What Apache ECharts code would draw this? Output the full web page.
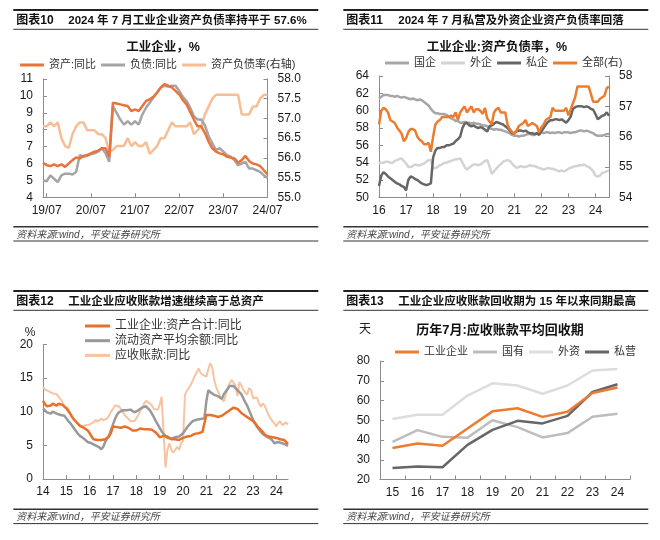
<!DOCTYPE html>
<html><head><meta charset="utf-8">
<script src="https://cdn.jsdelivr.net/npm/echarts@6/dist/echarts.min.js"></script>
<style>html,body{margin:0;padding:0;background:#fff}#c{width:660px;height:540px}</style>
</head><body><div id="c"></div>
<script>
// ---------- 图表10 ----------
const c10Start = [2019, 6];
const c10Asset = [6.05,5.9,5.85,5.95,5.85,5.95,5.8,6.0,6.2,6.35,
6.3,6.45,6.5,6.6,6.7,6.75,6.9,6.9,6.4,9.6,
9.55,9.5,9.45,9.4,9.1,9.2,9.1,9.4,9.7,9.8,
9.95,10.2,10.5,10.7,10.6,10.5,10.3,10.1,9.75,9.5,
9.05,8.6,8.2,8.2,7.8,7.3,6.9,6.7,6.6,6.55,
6.4,6.35,6.3,6.05,6.2,6.45,6.15,6.0,5.95,5.85,
5.6,5.35];
const c10Liab = [5.0,4.95,5.3,5.1,4.9,5.3,5.4,5.4,5.35,5.5,
6.5,6.4,6.45,6.55,6.6,6.7,6.9,6.6,6.1,9.4,
9.0,8.6,8.3,8.5,8.3,8.5,8.3,8.9,9.3,9.6,
9.9,10.2,10.5,10.6,10.55,10.6,10.6,10.3,9.95,9.7,
9.3,8.8,8.6,8.6,8.25,7.6,7.2,6.8,6.9,6.7,
6.5,6.4,6.2,5.9,6.0,6.1,5.7,5.7,5.6,5.5,
5.3,5.15];
const c10Ratio = [56.8,56.8,56.9,56.8,56.9,56.5,56.3,56.25,56.6,56.8,
56.9,56.9,56.7,56.7,56.7,56.6,56.6,56.5,56.15,56.2,
56.3,56.3,56.3,56.5,56.3,56.4,56.3,56.3,56.4,56.1,
56.2,56.3,56.5,56.5,56.7,56.9,56.8,56.8,56.8,56.8,
56.9,56.6,56.7,56.8,57.1,57.3,57.5,57.6,57.6,57.6,
57.6,57.6,57.6,57.6,57.1,57.1,57.1,57.3,57.3,57.5,
57.6,57.6];

// ---------- 图表11 ----------
const c11Start = [2016, 1];
const c11Soe = [61.4,61.6,61.8,61.8,61.8,61.7,61.7,61.6,61.7,61.6,
61.5,61.6,61.5,61.4,61.3,61.4,61.3,61.2,61.3,61.2,
61.0,60.8,60.6,60.2,59.9,59.7,59.7,59.6,59.6,59.6,
59.5,59.3,59.1,59.0,58.8,58.8,58.6,58.6,58.7,58.6,
58.6,58.5,58.6,58.5,58.5,58.4,58.3,58.3,58.2,58.0,
57.9,57.8,57.9,57.8,57.8,57.7,57.6,57.5,57.4,57.2,
57.1,57.1,57.0,57.1,57.1,57.2,57.3,57.3,57.2,57.2,
57.4,57.5,57.5,57.4,57.5,57.5,57.4,57.5,57.4,57.5,
57.5,57.4,57.5,57.5,57.5,57.4,57.5,57.5,57.6,57.7,
57.7,57.6,57.7,57.6,57.5,57.4,57.2,57.1,57.1,57.1,
57.2,57.3,57.3];
const c11Foreign = [53.9,54.0,54.0,54.1,54.1,54.0,54.0,54.2,54.3,54.4,
54.5,54.2,53.9,53.5,53.5,53.6,53.8,53.7,53.7,53.8,
53.9,54.1,54.3,54.3,53.3,53.4,53.5,53.7,53.8,54.0,
54.0,54.1,54.2,54.3,54.4,54.4,54.5,54.0,53.5,53.2,
53.4,53.6,53.8,53.8,53.7,53.8,54.0,54.2,54.3,53.6,
52.7,53.0,53.3,53.6,53.8,54.1,54.2,54.3,54.2,53.9,
53.6,53.4,53.5,53.6,53.5,53.5,53.6,53.7,53.6,53.6,
53.5,53.4,53.3,53.2,53.3,53.4,53.3,53.3,53.2,53.1,
53.0,53.1,53.0,53.1,53.3,53.4,53.5,53.6,53.6,53.7,
53.7,53.8,53.6,53.5,53.3,53.0,52.5,52.4,52.5,52.8,
52.9,53.0,53.1];
const c11Private = [51.3,52.5,52.9,52.7,52.4,52.2,52.0,51.8,51.6,51.5,
51.3,51.2,50.8,52.0,52.4,52.3,52.1,52.0,51.8,51.6,
51.5,51.4,51.5,51.6,54.6,55.4,55.7,55.7,55.8,55.8,
56.0,56.0,56.1,56.2,56.5,56.7,57.0,58.0,58.5,58.6,
58.3,58.2,58.3,58.1,58.0,58.1,58.0,57.8,57.6,58.2,
58.3,58.5,58.7,58.6,58.5,58.4,58.2,58.0,57.7,57.4,
57.4,57.6,57.7,57.7,57.6,57.7,57.5,57.4,57.4,57.3,
57.4,57.2,57.6,58.0,58.4,58.7,58.9,58.9,59.0,59.0,
58.9,59.0,58.8,58.6,58.9,59.3,60.2,60.4,60.5,60.5,
60.5,60.4,60.5,60.4,60.2,60.1,59.6,59.0,59.2,59.4,
59.5,59.8,59.4];
const c11All = [56.4,56.85,56.95,56.9,56.8,56.55,56.5,56.45,56.3,56.2,
56.1,55.85,55.95,56.15,56.25,56.25,56.2,56.0,55.9,55.85,
55.75,55.75,55.8,55.5,56.0,56.4,56.5,56.55,56.65,56.65,
56.65,56.65,56.7,56.65,56.8,56.55,56.8,56.9,57.0,56.8,
56.9,57.0,56.8,56.9,56.9,56.85,56.75,56.95,56.6,56.5,
56.4,56.8,56.9,56.95,56.8,56.8,56.8,56.4,56.25,56.15,
56.1,56.2,56.35,56.4,56.45,56.55,56.35,56.4,56.45,56.4,
56.35,56.15,56.3,56.4,56.55,56.6,56.65,56.95,56.85,56.85,
56.85,56.85,56.85,56.95,56.7,56.9,57.1,57.3,57.65,57.65,
57.65,57.65,57.65,57.65,57.4,57.15,57.15,57.15,57.25,57.3,
57.35,57.6,57.65];

// ---------- 图表12 ----------
const c12Start = [2014, 1];
const c12Asset = [11.6,11.1,10.8,10.9,10.9,11.2,11.1,10.9,11.2,11.3,
11.0,10.9,10.5,10.1,9.7,9.2,8.8,8.5,8.2,7.9,
7.8,7.6,7.4,7.2,6.8,6.3,5.9,5.8,5.8,5.9,
5.8,5.9,5.9,6.1,6.3,6.9,7.8,7.8,7.7,7.8,
7.6,7.7,7.8,7.7,7.6,7.6,7.2,7.0,7.2,7.3,
7.5,7.4,7.4,7.3,7.4,7.3,7.3,7.2,6.9,6.6,
6.2,6.3,6.4,6.4,6.3,6.1,5.9,5.9,5.9,5.9,
5.8,5.9,6.1,6.2,6.3,6.4,6.4,6.6,6.7,6.7,
6.8,6.8,7.0,6.9,9.5,9.6,9.5,9.4,9.4,9.3,
9.2,9.3,9.4,9.6,9.8,10.0,10.2,10.4,10.6,10.5,
10.4,10.1,9.8,9.6,9.4,9.2,9.0,8.8,8.6,8.3,
7.9,7.7,7.3,7.0,6.6,6.4,6.3,6.3,6.2,6.0,
6.1,6.3,5.9,5.9,5.8,5.5,5.2];
const c12Current = [10.5,10.2,9.9,9.7,9.7,10.0,9.9,9.7,9.6,9.5,
9.4,9.4,9.0,8.6,8.3,7.9,7.5,7.1,6.7,6.4,
6.2,6.0,5.8,5.5,5.3,5.3,5.2,5.0,4.9,4.7,
4.4,4.8,5.5,6.0,6.5,7.3,8.1,8.9,9.5,9.9,
10.1,10.2,10.2,10.2,10.3,10.3,10.2,9.9,9.7,10.2,
10.3,10.6,10.8,10.8,10.6,10.2,9.7,9.2,8.6,8.1,
7.6,7.1,6.7,6.4,6.1,6.0,6.0,6.0,6.2,6.2,
6.3,6.5,6.8,7.2,7.6,8.0,8.3,8.6,8.8,8.8,
8.9,8.9,8.8,9.0,11.5,13.2,12.9,12.7,12.5,12.4,
12.3,12.1,11.9,12.6,13.0,13.4,13.8,14.0,13.8,13.6,
13.2,12.9,12.6,12.0,11.4,10.9,10.2,9.5,8.8,8.3,
7.8,7.4,7.0,6.7,6.5,6.3,6.2,6.0,5.7,5.3,
5.4,5.5,5.4,5.3,5.2,5.1,4.9];
const c12Recv = [13.7,13.3,13.1,13.0,12.8,12.7,12.8,12.6,12.2,12.1,
11.5,10.6,10.7,10.5,9.7,9.2,8.8,8.5,8.2,8.0,
7.8,7.9,8.0,8.0,8.1,8.2,8.4,8.8,8.5,8.7,
9.0,8.7,8.5,9.0,9.4,10.0,10.4,10.9,11.0,10.8,
10.4,10.0,9.5,9.2,9.0,8.6,8.5,8.6,9.0,9.5,
10.2,10.6,11.2,11.6,11.7,11.2,10.9,10.4,10.2,10.3,
11.0,12.2,7.0,1.7,4.3,5.3,4.3,3.9,3.8,4.8,
4.3,5.3,5.6,12.5,13.1,13.5,14.0,14.6,15.3,15.8,
16.4,15.8,15.5,15.7,15.2,16.3,17.2,16.6,14.8,13.7,
13.0,12.3,11.9,11.5,12.5,13.5,14.2,14.7,14.3,13.8,
12.3,14.4,13.9,13.3,12.8,12.5,13.5,13.2,12.0,11.8,
12.1,11.3,10.7,11.2,10.9,10.2,9.5,9.0,8.6,8.3,
7.8,8.3,8.6,8.0,7.9,8.4,8.1];

// ---------- 图表13 ----------
const c13Years = ['15','16','17','18','19','20','21','22','23','24'];
const c13Ind = [36.0,38.2,37.1,45.8,54.5,56.1,51.7,54.3,63.8,66.6];
const c13Soe = [39.1,45.0,41.6,41.2,50.0,46.5,41.3,43.5,51.8,53.3];
const c13For = [50.6,52.8,52.8,62.5,68.7,67.6,63.4,67.6,75.2,75.9];
const c13Pri = [25.8,26.6,26.2,37.5,45.1,49.7,48.4,52.2,64.3,68.2];

function monthCats(start, n) {
  const out = []; let y = start[0], m = start[1];
  for (let k = 0; k < n; k++) {
    out.push(String(y % 100).padStart(2, '0') + '/' + String(m).padStart(2, '0'));
    m++; if (m > 12) { m = 1; y++; }
  }
  return out;
}
const c10Cats = monthCats(c10Start, c10Asset.length);
const c11Cats = monthCats(c11Start, c11Soe.length);
const c12Cats = monthCats(c12Start, c12Asset.length);

const FONT = '"Liberation Sans", "Noto Sans CJK SC", sans-serif';
const AX = '#8c8c8c';
const LBL = '#1a1a1a';

function txt(x, y, text, size, opts) {
  opts = opts || {};
  return { type: 'text', silent: true, style: {
    x: x, y: y, text: text, fill: opts.fill || '#111',
    font: (opts.italic ? 'italic ' : '') + (opts.bold ? 'bold ' : '') + size + 'px ' + FONT,
    align: opts.align || 'left', textAlign: opts.align || 'left',
    verticalAlign: 'middle', textVerticalAlign: 'middle' } };
}
function hline(x1, x2, y, w, c) {
  return { type: 'line', silent: true, shape: { x1: x1, y1: y, x2: x2, y2: y }, style: { stroke: c || '#333', lineWidth: w } };
}
function block(x0, x1, yTop, label, title, footY) {
  return [
    hline(x0, x1, yTop, 2, '#222'),
    txt(x0 + 3, yTop + 10.5, label, 12, { bold: true }),
    txt(x0 + 55, yTop + 10.5, title, 11.5, { bold: true }),
    hline(x0, x1, yTop + 19.3, 1, '#333'),
    hline(x0, x1, footY, 1.6, '#333'),
    txt(x0 + 3, footY + 8.3, '资料来源:wind，平安证券研究所', 10, { italic: true, fill: '#444' }),
    hline(x0, x1, footY + 14.3, 1, '#333')
  ];
}

function xCat(grid, data, labelFn, fmt, boundary) {
  return {
    type: 'category', gridIndex: grid, data: data, boundaryGap: !!boundary,
    axisLine: { lineStyle: { color: AX, width: 1 } },
    axisTick: { show: true, inside: true, length: 4, lineStyle: { color: AX },
      interval: labelFn || 0 },
    axisLabel: { interval: labelFn || 0, formatter: fmt, fontSize: 12, color: LBL, margin: 7, fontFamily: FONT }
  };
}
function yVal(grid, min, max, interval, pos, fmt) {
  return {
    type: 'value', gridIndex: grid, min: min, max: max, interval: interval, position: pos || 'left',
    splitLine: { show: false },
    axisLine: { show: true, lineStyle: { color: AX, width: 1 } },
    axisTick: { show: true, inside: true, length: 4, lineStyle: { color: AX } },
    axisLabel: { fontSize: 12, color: LBL, margin: 10, formatter: fmt, fontFamily: FONT }
  };
}
function line(name, data, xi, yi, color, width) {
  return { name: name, type: 'line', data: data, xAxisIndex: xi, yAxisIndex: yi,
    symbol: 'none', showSymbol: false, smooth: false, color: color,
    lineStyle: { color: color, width: width || 2.5 }, emphasis: { disabled: true } };
}
const legendBase = { icon: 'rect', itemHeight: 3, itemWidth: 24, itemGap: 5, padding: 0,
  textStyle: { fontSize: 11, color: '#333', fontFamily: FONT }, selectedMode: false };

const isJuly = (i, v) => v.slice(3) === '07';
const isJan = (i, v) => v.slice(3) === '01';
const yy = v => v.slice(0, 2);

const chart = echarts.init(document.getElementById('c'), null, { renderer: 'canvas' });
chart.setOption({
  animation: false,
  textStyle: { fontFamily: FONT },
  grid: [
    { left: 43, top: 79, width: 224.5, height: 118.3 },
    { left: 379, top: 76, width: 230, height: 121.3 },
    { left: 43, top: 344.3, width: 245, height: 134.7 },
    { left: 380, top: 361, width: 250, height: 118.5 }
  ],
  xAxis: [
    xCat(0, c10Cats, isJuly, null, false),
    xCat(1, c11Cats, isJan, yy, false),
    xCat(2, c12Cats, isJan, yy, false),
    xCat(3, c13Years, null, null, true)
  ],
  yAxis: [
    yVal(0, 4, 11, 1, 'left'),
    yVal(0, 55, 58, 0.5, 'right', v => v.toFixed(1)),
    yVal(1, 50, 64, 2, 'left'),
    yVal(1, 54, 58, 1, 'right'),
    yVal(2, 0, 20, 5, 'left'),
    yVal(3, 20, 80, 10, 'left')
  ],
  legend: [
    Object.assign({}, legendBase, { data: ['资产:同比', '负债:同比', '资产负债率(右轴)'], left: 20, top: 59.5 }),
    Object.assign({}, legendBase, { data: ['国企', '外企', '私企', '全部(右)'], left: 385, top: 57.5 }),
    Object.assign({}, legendBase, { data: ['工业企业:资产合计:同比', '流动资产平均余额:同比', '应收账款:同比'],
      orient: 'vertical', left: 85, top: 320, itemWidth: 25, itemGap: 2.7,
      textStyle: { fontSize: 12, color: '#333', fontFamily: FONT } }),
    Object.assign({}, legendBase, { data: ['工业企业', '国有', '外资', '私营'], left: 395, top: 346.5 })
  ],
  series: [
    line('资产负债率(右轴)', c10Ratio, 0, 1, '#F7BE95', 2.5),
    line('负债:同比', c10Liab, 0, 0, '#A5A5A5', 2.5),
    line('资产:同比', c10Asset, 0, 0, '#E8743B', 2.5),

    line('外企', c11Foreign, 1, 2, '#D3D3D3', 2.5),
    line('国企', c11Soe, 1, 2, '#A6A6A6', 2.5),
    line('私企', c11Private, 1, 2, '#666666', 2.5),
    line('全部(右)', c11All, 1, 3, '#EC7C30', 2.5),

    line('应收账款:同比', c12Recv, 2, 4, '#F8C3A0', 2),
    line('流动资产平均余额:同比', c12Current, 2, 4, '#999999', 2.5),
    line('工业企业:资产合计:同比', c12Asset, 2, 4, '#E8702A', 2.5),

    line('外资', c13For, 3, 5, '#DDDDDD', 2.5),
    line('国有', c13Soe, 3, 5, '#BDBDBD', 2.5),
    line('私营', c13Pri, 3, 5, '#666666', 2.5),
    line('工业企业', c13Ind, 3, 5, '#EC7C30', 2.5)
  ],
  graphic: [].concat(
    block(13.3, 318.3, 10, '图表10', '2024 年 7 月工业企业资产负债率持平于 57.6%', 226.7),
    block(343.3, 648.3, 10, '图表11', '2024 年 7 月私营及外资企业资产负债率回落', 226.7),
    block(13.3, 318.3, 291, '图表12', '工业企业应收账款增速继续高于总资产', 509.3),
    block(343.3, 648.3, 291, '图表13', '工业企业应收账款回收期为 15 年以来同期最高', 509.3),
    [
      txt(163, 47.5, '工业企业，%', 12.5, { bold: true, align: 'center' }),
      txt(497, 47.5, '工业企业:资产负债率，%', 12.5, { bold: true, align: 'center' }),
      txt(500, 330, '历年7月:应收账款平均回收期', 13, { bold: true, align: 'center' }),
      txt(365, 330, '天', 12, { align: 'center', fill: '#222' }),
      txt(30, 333, '%', 12, { align: 'center', fill: '#222' })
    ]
  )
});
</script>
</body></html>
